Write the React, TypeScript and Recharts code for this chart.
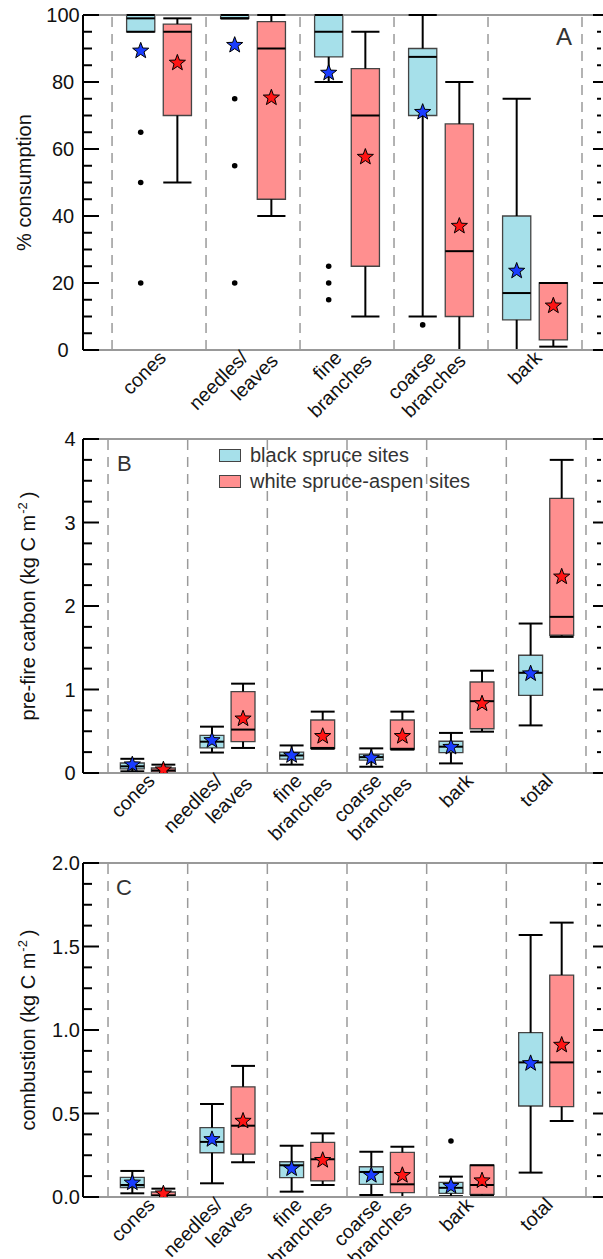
import React from 'react';
import { ComposedChart, XAxis, YAxis, Scatter, ReferenceArea, ReferenceLine, Legend } from 'recharts';

const FONT = '"Liberation Sans", Arial, Helvetica, sans-serif';

// ---------- categories ----------
const CATEGORIES_A = ['cones', 'needles/|leaves', 'fine|branches', 'coarse|branches', 'bark'];
const CATEGORIES_BC = ['cones', 'needles/|leaves', 'fine|branches', 'coarse|branches', 'bark', 'total'];

// ---------- series ----------
const SERIES = [
  { name: 'black spruce sites', fill: '#A6E0EA', star: '#1A3DFF' },
  { name: 'white spruce-aspen sites', fill: '#FF8F8F', star: '#FF1414' },
];

// box stats: [lower whisker, q1, median, q3, upper whisker]
// ---- Panel A: % consumption ----
const A_BLACK = [
  [95, 95, 99, 100, 100],
  [99, 99, 99, 100, 100],
  [80, 87.5, 95, 100, 100],
  [10, 70, 87.5, 90, 100],
  [0, 9, 17, 40, 75],
];
const A_BLACK_MEAN = [89.3, 91, 82.7, 71, 23.6];
const A_BLACK_OUTLIERS = [[65, 50, 20], [75, 55, 20], [25, 20, 15], [7.5], []];
const A_WHITE = [
  [50, 70, 95, 97.3, 99],
  [40, 45, 90, 98, 100],
  [10, 25, 70, 84, 95],
  [0, 10, 29.5, 67.5, 80],
  [1, 3, 20, 20, 20],
];
const A_WHITE_MEAN = [85.7, 75.3, 57.6, 37, 13.2];
const A_WHITE_OUTLIERS: number[][] = [[], [], [], [], []];

// ---- Panel B: pre-fire carbon ----
const B_BLACK = [
  [0.02, 0.05, 0.08, 0.12, 0.17],
  [0.245, 0.3, 0.375, 0.45, 0.555],
  [0.1, 0.165, 0.21, 0.25, 0.33],
  [0.075, 0.155, 0.19, 0.225, 0.295],
  [0.115, 0.245, 0.315, 0.38, 0.48],
  [0.57, 0.93, 1.2, 1.41, 1.79],
];
const B_BLACK_MEAN = [0.1, 0.39, 0.21, 0.18, 0.31, 1.19];
const B_BLACK_OUTLIERS: number[][] = [[], [], [], [], [], []];
const B_WHITE = [
  [0.0, 0.01, 0.03, 0.06, 0.1],
  [0.3, 0.375, 0.52, 0.975, 1.07],
  [0.29, 0.295, 0.3, 0.635, 0.735],
  [0.28, 0.285, 0.29, 0.635, 0.735],
  [0.495, 0.53, 0.86, 1.09, 1.225],
  [1.63, 1.65, 1.87, 3.29, 3.75],
];
const B_WHITE_MEAN = [0.04, 0.65, 0.44, 0.44, 0.83, 2.35];
const B_WHITE_OUTLIERS: number[][] = [[], [], [], [], [], []];

// ---- Panel C: combustion ----
const C_BLACK = [
  [0.022, 0.057, 0.072, 0.118, 0.156],
  [0.082, 0.265, 0.33, 0.415, 0.557],
  [0.032, 0.116, 0.19, 0.211, 0.307],
  [0.012, 0.076, 0.15, 0.181, 0.271],
  [0.005, 0.022, 0.055, 0.088, 0.122],
  [0.146, 0.545, 0.806, 0.984, 1.569],
];
const C_BLACK_MEAN = [0.085, 0.345, 0.17, 0.13, 0.065, 0.8];
const C_BLACK_OUTLIERS = [[], [], [], [], [0.335], []];
const C_WHITE = [
  [0.0, 0.003, 0.01, 0.03, 0.05],
  [0.208, 0.257, 0.427, 0.66, 0.785],
  [0.072, 0.096, 0.226, 0.327, 0.381],
  [0.0, 0.026, 0.076, 0.267, 0.301],
  [0.01, 0.016, 0.072, 0.19, 0.19],
  [0.455, 0.541, 0.806, 1.329, 1.643],
];
const C_WHITE_MEAN = [0.02, 0.455, 0.22, 0.13, 0.098, 0.91];
const C_WHITE_OUTLIERS: number[][] = [[], [], [], [], [], []];

// ---------- ticks ----------
const A_MAJOR = [0, 20, 40, 60, 80, 100];
const A_LABELS = ['0', '20', '40', '60', '80', '100'];
const A_MINOR_STEP = 5;
const B_MAJOR = [0, 1, 2, 3, 4];
const B_LABELS = ['0', '1', '2', '3', '4'];
const B_MINOR_STEP = 0.25;
const C_MAJOR = [0, 0.5, 1, 1.5, 2];
const C_LABELS = ['0.0', '0.5', '1.0', '1.5', '2.0'];
const C_MINOR_STEP = 0.125;

const BOX_W = 0.3;
const OFFSET = 0.195;

function allTicks(max: number, step: number) {
  const out: number[] = [];
  const n = Math.round(max / step);
  for (let i = 0; i <= n; i++) out.push(+(i * step).toFixed(4));
  return out;
}

function starPoints(cx: number, cy: number, R: number, r: number) {
  const pts: string[] = [];
  for (let i = 0; i < 10; i++) {
    const ang = -Math.PI / 2 + (i * Math.PI) / 5;
    const rad = i % 2 === 0 ? R : r;
    pts.push(`${cx + rad * Math.cos(ang)},${cy + rad * Math.sin(ang)}`);
  }
  return pts.join(' ');
}

const StarShape = (color: string) => (p: any) =>
  p.cx == null ? <g /> : (
    <polygon points={starPoints(p.cx, p.cy, 8.5, 3.5)} fill={color} stroke="#000" strokeWidth={1} strokeLinejoin="round" />
  );

const DotShape = (p: any) => (p.cx == null ? <g /> : <circle cx={p.cx} cy={p.cy} r={2.8} fill="#000" />);

const LeftTick = (props: any) => {
  const { x, y, payload, majors, labels, labelDx } = props;
  const idx = majors.findIndex((m: number) => Math.abs(m - payload.value) < 1e-6);
  const major = idx >= 0;
  return (
    <g>
      <line x1={x} x2={x + (major ? 16 : 9)} y1={y} y2={y} stroke="#000" strokeWidth={2} />
      {major && (
        <text x={x - labelDx} y={y} dy="0.36em" textAnchor="middle" fontSize={20} fill="#111" fontFamily={FONT}>
          {labels[idx]}
        </text>
      )}
    </g>
  );
};

const RightTick = (props: any) => {
  const { x, y, payload, majors } = props;
  const major = majors.some((m: number) => Math.abs(m - payload.value) < 1e-6);
  return major ? (
    <line x1={x} x2={x + 10} y1={y} y2={y} stroke="#000" strokeWidth={2} />
  ) : (
    <line x1={x + 4} x2={x + 8} y1={y} y2={y} stroke="#000" strokeWidth={2} />
  );
};

const CatTick = (props: any) => {
  const { x, y, payload, cats } = props;
  const idx = Math.floor(payload.value);
  const lines: string[] = (cats[idx] || '').split('|');
  const common = { fontSize: 19.5, fill: '#111', fontFamily: FONT, textAnchor: 'end' as const };
  if (lines.length === 1) {
    const ax = x + 8;
    const ay = y + 9;
    return (
      <text x={ax} y={ay} transform={`rotate(-45, ${ax}, ${ay})`} {...common}>
        {lines[0]}
      </text>
    );
  }
  const a1x = x - 4, a1y = y + 9;
  const a2x = x + 26, a2y = y + 12;
  return (
    <g>
      <text x={a1x} y={a1y} transform={`rotate(-45, ${a1x}, ${a1y})`} {...common}>{lines[0]}</text>
      <text x={a2x} y={a2y} transform={`rotate(-45, ${a2x}, ${a2y})`} {...common}>{lines[1]}</text>
    </g>
  );
};

const YTitle = (props: any) => {
  const { viewBox, main, sup, tail, baseX } = props;
  const vb = viewBox || { x: 0, y: 0, width: 83, height: 300 };
  const cy = vb.y + vb.height / 2;
  const x = baseX;
  return (
    <text x={x} y={cy} transform={`rotate(-90, ${x}, ${cy})`} textAnchor="middle" fontSize={20} fill="#111" fontFamily={FONT}>
      {main}
      {sup ? (
        <>
          <tspan dy={-8} dx={1} fontSize={13}>{sup}</tspan>
          <tspan dy={8} dx={4}>{tail}</tspan>
        </>
      ) : null}
    </text>
  );
};

const LegendContent = () => (
  <div style={{ fontFamily: FONT, fontSize: 20, color: '#333', lineHeight: '26px', whiteSpace: 'nowrap' }}>
    {SERIES.map((s) => (
      <div key={s.name} style={{ display: 'flex', alignItems: 'center', height: 26 }}>
        <span
          style={{
            display: 'inline-block',
            width: 22,
            height: 13,
            background: s.fill,
            border: '1.3px solid #444',
            boxSizing: 'border-box',
            marginRight: 9,
          }}
        />
        {s.name}
      </div>
    ))}
  </div>
);

function boxElements(stats: number[][], dx: number, fill: string, key: string) {
  const els: React.ReactNode[] = [];
  stats.forEach((s, i) => {
    const [lo, q1, med, q3, hi] = s;
    const c = i + 0.5 + dx;
    const l = c - BOX_W / 2;
    const r = c + BOX_W / 2;
    const ln = { stroke: '#000', strokeWidth: 2, ifOverflow: 'visible' as const };
    els.push(<ReferenceLine key={`${key}-wl${i}`} segment={[{ x: c, y: lo }, { x: c, y: q1 }]} {...ln} />);
    els.push(<ReferenceLine key={`${key}-wh${i}`} segment={[{ x: c, y: q3 }, { x: c, y: hi }]} {...ln} />);
    els.push(<ReferenceLine key={`${key}-cl${i}`} segment={[{ x: l, y: lo }, { x: r, y: lo }]} {...ln} />);
    els.push(<ReferenceLine key={`${key}-ch${i}`} segment={[{ x: l, y: hi }, { x: r, y: hi }]} {...ln} />);
    els.push(
      <ReferenceArea
        key={`${key}-b${i}`}
        x1={l}
        x2={r}
        y1={q1}
        y2={q3}
        fill={fill}
        fillOpacity={1}
        stroke="#444"
        strokeWidth={1.3}
        ifOverflow="visible"
      />
    );
    els.push(<ReferenceLine key={`${key}-m${i}`} segment={[{ x: l, y: med }, { x: r, y: med }]} {...ln} />);
  });
  return els;
}

function pointsFrom(values: number[], dx: number) {
  return values.map((v, i) => ({ x: i + 0.5 + dx, y: v }));
}
function outliersFrom(list: number[][], dx: number) {
  const out: { x: number; y: number }[] = [];
  list.forEach((vals, i) => vals.forEach((v) => out.push({ x: i + 0.5 + dx, y: v })));
  return out;
}

type PanelProps = {
  height: number;
  top: number;
  xHeight: number;
  cats: string[];
  yMax: number;
  majors: number[];
  labels: string[];
  minorStep: number;
  labelDx: number;
  black: number[][];
  blackMean: number[];
  blackOut: number[][];
  white: number[][];
  whiteMean: number[];
  whiteOut: number[][];
  title: { main: string; sup?: string; tail?: string; baseX: number };
  leftPad: number;
  rightPad: number;
  legend?: boolean;
};

const Panel = (p: PanelProps) => {
  const n = p.cats.length;
  const ticks = allTicks(p.yMax, p.minorStep);
  const centers = p.cats.map((_, i) => i + 0.5);
  const seps = Array.from({ length: n + 1 }, (_, i) => i);
  return (
    <ComposedChart width={603} height={p.height} margin={{ top: p.top, right: 0, bottom: 0, left: 0 }}>
      <XAxis
        dataKey="x"
        type="number"
        domain={[-p.leftPad, n + p.rightPad]}
        allowDataOverflow
        ticks={centers}
        interval={0}
        tickSize={0}
        tickMargin={0}
        tickLine={false}
        axisLine={{ stroke: '#999', strokeWidth: 2 }}
        height={p.xHeight}
        tick={<CatTick cats={p.cats} />}
      />
      <YAxis
        dataKey="y"
        type="number"
        domain={[0, p.yMax]}
        allowDataOverflow
        ticks={ticks}
        interval={0}
        tickSize={0}
        tickMargin={0}
        tickLine={false}
        axisLine={{ stroke: '#000', strokeWidth: 2 }}
        width={83}
        tick={<LeftTick majors={p.majors} labels={p.labels} labelDx={p.labelDx} />}
        label={<YTitle main={p.title.main} sup={p.title.sup} tail={p.title.tail} baseX={p.title.baseX} />}
      />
      <YAxis
        yAxisId="right"
        orientation="right"
        type="number"
        domain={[0, p.yMax]}
        allowDataOverflow
        ticks={ticks}
        interval={0}
        tickSize={0}
        tickMargin={0}
        tickLine={false}
        axisLine={false}
        width={10}
        tick={<RightTick majors={p.majors} />}
      />
      {seps.map((s) => (
        <ReferenceLine key={`sep${s}`} x={s} stroke="#9a9a9a" strokeWidth={1.5} strokeDasharray="10 7" />
      ))}
      <ReferenceLine y={p.yMax} stroke="#999" strokeWidth={2} />
      {boxElements(p.black, -OFFSET, SERIES[0].fill, 'bk')}
      {boxElements(p.white, OFFSET, SERIES[1].fill, 'wh')}
      <Scatter data={outliersFrom(p.blackOut, -OFFSET)} shape={DotShape} isAnimationActive={false} legendType="none" />
      <Scatter data={outliersFrom(p.whiteOut, OFFSET)} shape={DotShape} isAnimationActive={false} legendType="none" />
      <Scatter data={pointsFrom(p.blackMean, -OFFSET)} shape={StarShape(SERIES[0].star)} isAnimationActive={false} />
      <Scatter data={pointsFrom(p.whiteMean, OFFSET)} shape={StarShape(SERIES[1].star)} isAnimationActive={false} />
      {p.legend && (
        <Legend
          layout="vertical"
          align="center"
          verticalAlign="middle"
          content={<LegendContent />}
          wrapperStyle={{ left: 219, top: 22, width: 300, height: 52, right: 'auto', bottom: 'auto' }}
        />
      )}
    </ComposedChart>
  );
};

export default function App() {
  return (
    <div style={{ position: 'absolute', left: 0, top: 0, width: 603, height: 1259, background: '#fff', fontFamily: FONT, overflow: 'hidden' }}>
      <div style={{ position: 'absolute', left: 0, top: 0 }}>
        <Panel
          height={445}
          top={15}
          xHeight={95}
          cats={CATEGORIES_A}
          yMax={100}
          majors={A_MAJOR}
          labels={A_LABELS}
          minorStep={A_MINOR_STEP}
          labelDx={20}
          black={A_BLACK}
          blackMean={A_BLACK_MEAN}
          blackOut={A_BLACK_OUTLIERS}
          white={A_WHITE}
          whiteMean={A_WHITE_MEAN}
          whiteOut={A_WHITE_OUTLIERS}
          title={{ main: '% consumption', baseX: 31 }}
          leftPad={0.309}
          rightPad={0.117}
        />
      </div>
      <div style={{ position: 'absolute', left: 0, top: 420 }}>
        <Panel
          height={445}
          top={19}
          xHeight={92}
          cats={CATEGORIES_BC}
          yMax={4}
          majors={B_MAJOR}
          labels={B_LABELS}
          minorStep={B_MINOR_STEP}
          labelDx={13}
          black={B_BLACK}
          blackMean={B_BLACK_MEAN}
          blackOut={B_BLACK_OUTLIERS}
          white={B_WHITE}
          whiteMean={B_WHITE_MEAN}
          whiteOut={B_WHITE_OUTLIERS}
          title={{ main: 'pre-fire carbon (kg C m', sup: '-2', tail: ')', baseX: 35 }}
          leftPad={0.314}
          rightPad={0.088}
          legend
        />
      </div>
      <div style={{ position: 'absolute', left: 0, top: 840 }}>
        <Panel
          height={419}
          top={23}
          xHeight={62}
          cats={CATEGORIES_BC}
          yMax={2}
          majors={C_MAJOR}
          labels={C_LABELS}
          minorStep={C_MINOR_STEP}
          labelDx={17}
          black={C_BLACK}
          blackMean={C_BLACK_MEAN}
          blackOut={C_BLACK_OUTLIERS}
          white={C_WHITE}
          whiteMean={C_WHITE_MEAN}
          whiteOut={C_WHITE_OUTLIERS}
          title={{ main: 'combustion (kg C m', sup: '-2', tail: ')', baseX: 35 }}
          leftPad={0.314}
          rightPad={0.088}
        />
      </div>
      <svg width={603} height={1259} style={{ position: 'absolute', left: 0, top: 0, pointerEvents: 'none' }}>
        <text x={556} y={45} fontSize={24} fill="#333" fontFamily={FONT}>A</text>
        <text x={117} y={471} fontSize={22} fill="#333" fontFamily={FONT}>B</text>
        <text x={116} y={895} fontSize={22} fill="#333" fontFamily={FONT}>C</text>
      </svg>
    </div>
  );
}
